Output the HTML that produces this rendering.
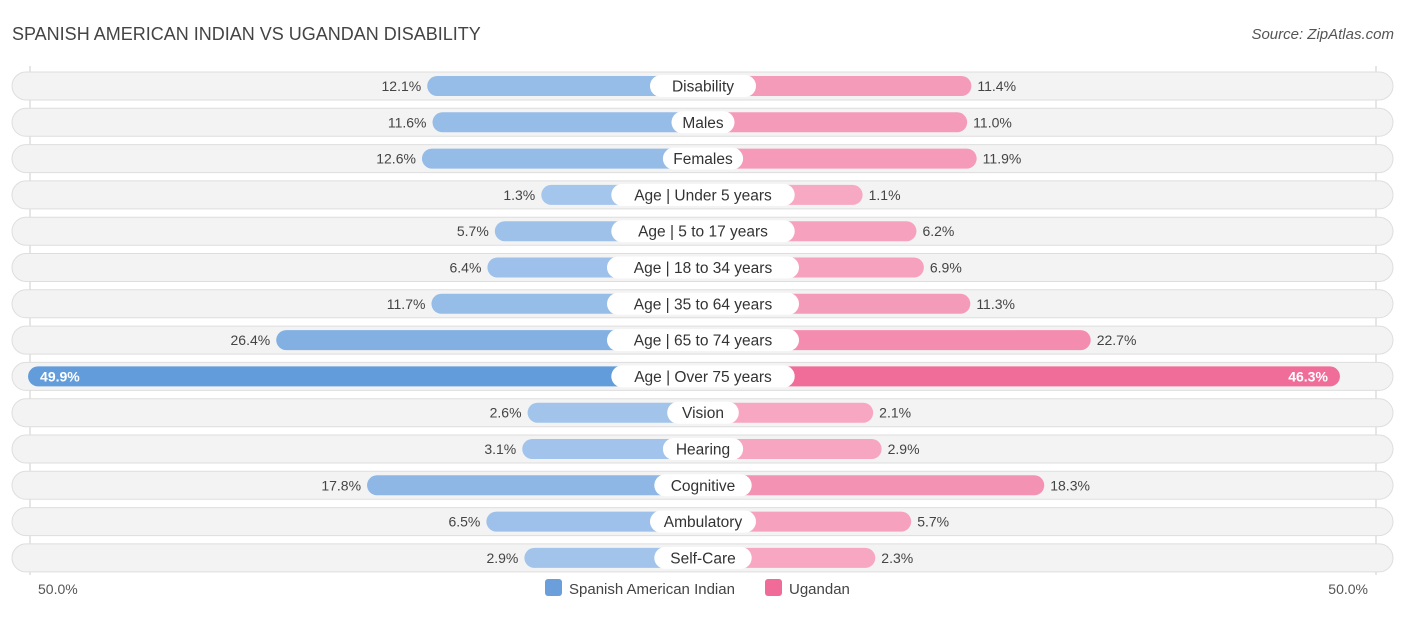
<!DOCTYPE html>
<html><head><meta charset="utf-8"><style>
body{margin:0;background:#fff;font-family:"Liberation Sans",sans-serif;}
#c{position:relative;width:1406px;height:612px;}
</style></head><body>
<div id="c">
<svg id="s" width="1406" height="612" xmlns="http://www.w3.org/2000/svg">
<text x="12" y="40" font-size="18" fill="#444">SPANISH AMERICAN INDIAN VS UGANDAN DISABILITY</text>
<text x="1394" y="39" font-size="15" fill="#555" font-style="italic" text-anchor="end">Source: ZipAtlas.com</text>
<line x1="30" y1="66" x2="30" y2="575" stroke="#ccc"/>
<line x1="1376" y1="66" x2="1376" y2="575" stroke="#ccc"/>
<g id="rows"></g>
<text x="38" y="594" font-size="14" fill="#555">50.0%</text>
<text x="1368" y="594" font-size="14" fill="#555" text-anchor="end">50.0%</text>
<rect x="545" y="579" width="17" height="17" rx="3" fill="#6a9fdc"/>
<text x="569" y="594" font-size="15" fill="#444">Spanish American Indian</text>
<rect x="765" y="579" width="17" height="17" rx="3" fill="#f06b98"/>
<text x="789" y="594" font-size="15" fill="#444">Ugandan</text>
</svg></div>
<script>
const categories=["Disability","Males","Females","Age | Under 5 years","Age | 5 to 17 years","Age | 18 to 34 years","Age | 35 to 64 years","Age | 65 to 74 years","Age | Over 75 years","Vision","Hearing","Cognitive","Ambulatory","Self-Care"];
const spanish=[12.1,11.6,12.6,1.3,5.7,6.4,11.7,26.4,49.9,2.6,3.1,17.8,6.5,2.9];
const ugandan=[11.4,11.0,11.9,1.1,6.2,6.9,11.3,22.7,46.3,2.1,2.9,18.3,5.7,2.3];
const NS="http://www.w3.org/2000/svg";
const g=document.getElementById('rows');
const cx=703,base=148,k=10.56;
function len(v){return base+v*k;}
function mix(a,b,t){return 'rgb('+a.map((x,i)=>Math.round(x+(b[i]-x)*t)).join(',')+')';}
function mk(tag,at){const e=document.createElementNS(NS,tag);for(const q in at)e.setAttribute(q,at[q]);g.appendChild(e);return e;}
categories.forEach((c,i)=>{
 const y=86+i*36.3;
 const bg=mk('rect',{x:12,y:y-14,width:1381,height:28,rx:14,fill:'#f3f3f3',stroke:'#dedede'});
 
 
 const s=spanish[i],u=ugandan[i];
 const ts=Math.min(1,s/50),tu=Math.min(1,u/50);
 const lb=mk('rect',{x:cx-len(s),y:y-10,width:len(s),height:20,rx:10,fill:mix([166,198,236],[98,156,218],ts)});
 
 
 const rb=mk('rect',{x:cx,y:y-10,width:len(u),height:20,rx:10,fill:mix([247,170,196],[240,104,150],tu)});
 
 
 const big=s>40;
 const ls=mk('text',{x:big?cx-len(s)+12:cx-len(s)-6,y:y+5,'font-size':14,fill:big?'#fff':'#444','text-anchor':big?'start':'end','font-weight':big?'bold':'normal'});
 ls.textContent=s.toFixed(1)+'%';
 
 
 const bigu=u>40;
 const lu=mk('text',{x:bigu?cx+len(u)-12:cx+len(u)+6,y:y+5,'font-size':14,fill:bigu?'#fff':'#444','text-anchor':bigu?'end':'start','font-weight':bigu?'bold':'normal'});
 lu.textContent=u.toFixed(1)+'%';
 
 
 const w=c.length*8.6+20;
 const pill=mk('rect',{x:cx-w/2,y:y-11,width:w,height:22,rx:11,fill:'#fff'});
 
 
 const t=mk('text',{x:cx,y:y+5.5,'font-size':15.5,fill:'#333','text-anchor':'middle'});
 t.textContent=c;
 
 
});
</script>
</body></html>
